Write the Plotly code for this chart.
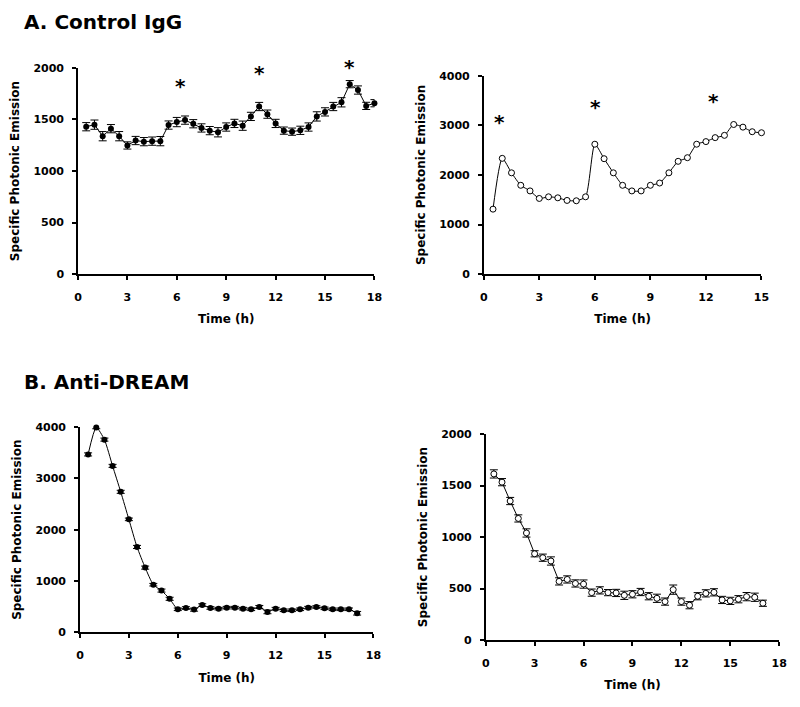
import plotly.graph_objects as go

# ---------------- data ----------------
t_a1 = [0.5, 1, 1.5, 2, 2.5, 3, 3.5, 4, 4.5, 5, 5.5, 6, 6.5, 7, 7.5, 8, 8.5, 9,
        9.5, 10, 10.5, 11, 11.5, 12, 12.5, 13, 13.5, 14, 14.5, 15, 15.5, 16, 16.5, 17, 17.5, 18]
v_a1 = [1430, 1450, 1338, 1411, 1338, 1248, 1296, 1285, 1290, 1290, 1446, 1475, 1494, 1459,
        1418, 1392, 1376, 1427, 1462, 1440, 1530, 1626, 1552, 1462, 1392, 1382, 1395, 1427,
        1530, 1574, 1626, 1667, 1843, 1786, 1632, 1658]
e_a1 = [40, 45, 45, 40, 45, 35, 40, 40, 40, 45, 40, 45, 40, 40, 40, 40, 45, 40,
        40, 45, 40, 40, 40, 40, 35, 35, 40, 40, 45, 40, 40, 45, 35, 40, 35, 35]
star_a1_t = [6.2, 11.0, 16.5]
star_a1_y = [1824, 1955, 2010]

t_a2 = [0.5, 1, 1.5, 2, 2.5, 3, 3.5, 4, 4.5, 5, 5.5, 6, 6.5, 7, 7.5, 8, 8.5, 9,
        9.5, 10, 10.5, 11, 11.5, 12, 12.5, 13, 13.5, 14, 14.5, 15]
v_a2 = [1310, 2335, 2043, 1791, 1678, 1526, 1559, 1539, 1486, 1479, 1559, 2620, 2328, 2043,
        1791, 1678, 1678, 1791, 1837, 2043, 2275, 2348, 2620, 2673, 2753, 2799, 3018, 2965,
        2872, 2852]
star_a2_t = [0.85, 6.05, 12.4]
star_a2_y = [3071, 3370, 3489]

t_b1 = [0.5, 1, 1.5, 2, 2.5, 3, 3.5, 4, 4.5, 5, 5.5, 6, 6.5, 7, 7.5, 8, 8.5, 9,
        9.5, 10, 10.5, 11, 11.5, 12, 12.5, 13, 13.5, 14, 14.5, 15, 15.5, 16, 16.5, 17]
v_b1 = [3469, 3994, 3757, 3245, 2739, 2202, 1664, 1261, 928, 813, 653, 448, 474, 442,
        531, 474, 461, 480, 480, 461, 448, 493, 397, 461, 429, 429, 448, 480, 493, 467,
        448, 448, 448, 371]
e_b1 = [30, 25, 30, 30, 30, 25, 30, 30, 25, 30, 30, 25, 25, 30, 25, 25, 25, 25,
        25, 25, 25, 30, 35, 25, 25, 25, 25, 25, 25, 25, 25, 25, 25, 35]

t_b2 = [0.5, 1, 1.5, 2, 2.5, 3, 3.5, 4, 4.5, 5, 5.5, 6, 6.5, 7, 7.5, 8, 8.5, 9,
        9.5, 10, 10.5, 11, 11.5, 12, 12.5, 13, 13.5, 14, 14.5, 15, 15.5, 16, 16.5, 17]
v_b2 = [1613, 1533, 1350, 1181, 1040, 838, 800, 768, 570, 589, 550, 544, 461, 483, 461,
        458, 435, 445, 467, 426, 406, 374, 490, 374, 339, 426, 454, 464, 390, 381, 397,
        422, 416, 358]
e_b2 = [40, 35, 35, 35, 40, 30, 35, 40, 35, 35, 35, 40, 35, 35, 30, 35, 40, 35,
        35, 35, 40, 35, 45, 35, 35, 35, 35, 35, 35, 35, 35, 40, 40, 30]

xticks_18 = [0, 3, 6, 9, 12, 15, 18]
xticks_15 = [0, 3, 6, 9, 12, 15]

# ---------------- figure ----------------
# The page body has an 8px margin, so figure coords = page coords - 8
OFF = 8
W, H = 792, 699
FONT = "DejaVu Sans, Arial, sans-serif"
fig = go.Figure()

def dx(a, b):
    return [(a - OFF) / W, (b - OFF) / W]

def dy(top, bottom):
    return [1 - (bottom - OFF) / H, 1 - (top - OFF) / H]

panels = [
    ("", dx(75, 376), dy(63, 273), [0, 18], [0, 2000], xticks_18, 500),
    ("2", dx(487, 769), dy(71, 273), [0, 15], [0, 4000], xticks_15, 1000),
    ("3", dx(77, 375), dy(429, 638), [0, 18], [0, 4000], xticks_18, 1000),
    ("4", dx(489, 787), dy(436, 646), [0, 18], [0, 2000], xticks_18, 500),
]

axfont = dict(family=FONT, size=11, color="black", weight="bold")
titlefont = dict(family=FONT, size=12, color="black", weight="bold")

for sid, xd, yd, xr, yr, xt, ydt in panels:
    xa = dict(domain=xd, range=xr, tickvals=xt, showline=True, linecolor="black",
              linewidth=1.5, ticks="outside", ticklen=4, tickwidth=1.5, tickcolor="black",
              showgrid=False, zeroline=False, tickfont=axfont, anchor="y" + sid,
              ticklabelstandoff=8,
              title=dict(text="Time (h)", font=titlefont, standoff=12), fixedrange=True)
    ya = dict(domain=yd, range=yr, dtick=ydt, tick0=0, showline=True, linecolor="black",
              linewidth=1.5, ticks="outside", ticklen=4, tickwidth=1.5, tickcolor="black",
              showgrid=False, zeroline=False, tickfont=axfont, anchor="x" + sid,
              ticklabelstandoff=6,
              title=dict(text="Specific Photonic Emission", font=titlefont, standoff=11),
              fixedrange=True)
    fig.layout["xaxis" + sid] = xa
    fig.layout["yaxis" + sid] = ya

# Panel A left
fig.add_trace(go.Scatter(
    x=t_a1, y=v_a1, mode="lines+markers", xaxis="x", yaxis="y",
    line=dict(color="black", width=1),
    marker=dict(symbol="circle", size=6, color="black"),
    error_y=dict(type="data", array=e_a1, color="black", thickness=1, width=4),
    showlegend=False, cliponaxis=False))

# Panel A right
fig.add_trace(go.Scatter(
    x=t_a2, y=v_a2, mode="lines+markers", xaxis="x2", yaxis="y2",
    line=dict(color="black", width=1, shape="spline", smoothing=0.6),
    marker=dict(symbol="circle", size=6, color="white", line=dict(color="black", width=1)),
    showlegend=False, cliponaxis=False))

# Panel B left
fig.add_trace(go.Scatter(
    x=t_b1, y=v_b1, mode="lines+markers", xaxis="x3", yaxis="y3",
    line=dict(color="black", width=1, shape="spline", smoothing=0.6),
    marker=dict(symbol="circle", size=6, color="black"),
    error_y=dict(type="data", array=e_b1, color="black", thickness=1, width=4),
    showlegend=False, cliponaxis=False))

# Panel B right
fig.add_trace(go.Scatter(
    x=t_b2, y=v_b2, mode="lines+markers", xaxis="x4", yaxis="y4",
    line=dict(color="black", width=1),
    marker=dict(symbol="circle", size=6, color="white", line=dict(color="black", width=1)),
    error_y=dict(type="data", array=e_b2, color="black", thickness=1, width=4),
    showlegend=False, cliponaxis=False))

# Stars (placed via the axis domain so they may sit above the top of the range)
for tx, ty, xr, yr, ymax in [(star_a1_t, star_a1_y, "x", "y", 2000),
                             (star_a2_t, star_a2_y, "x2", "y2", 4000)]:
    for a, b in zip(tx, ty):
        fig.add_annotation(x=a, y=b / ymax, xref=xr, yref=yr + " domain", text="*",
                           showarrow=False, yanchor="middle",
                           font=dict(family=FONT, size=20, color="black", weight="bold"))

# Panel titles
fig.add_annotation(x=(18 - OFF) / W, y=1 - (16 - OFF) / H, xref="paper", yref="paper",
                   text="A. Control IgG", showarrow=False, xanchor="left", yanchor="middle",
                   font=dict(family=FONT, size=20, color="black", weight="bold"))
fig.add_annotation(x=(18 - OFF) / W, y=1 - (383 - OFF) / H, xref="paper", yref="paper",
                   text="B. Anti-DREAM", showarrow=False, xanchor="left", yanchor="middle",
                   font=dict(family=FONT, size=20, color="black", weight="bold"))

fig.update_layout(width=W, height=H, margin=dict(l=0, r=0, t=0, b=0),
                  paper_bgcolor="white", plot_bgcolor="white")

fig.write_html("out.html")
